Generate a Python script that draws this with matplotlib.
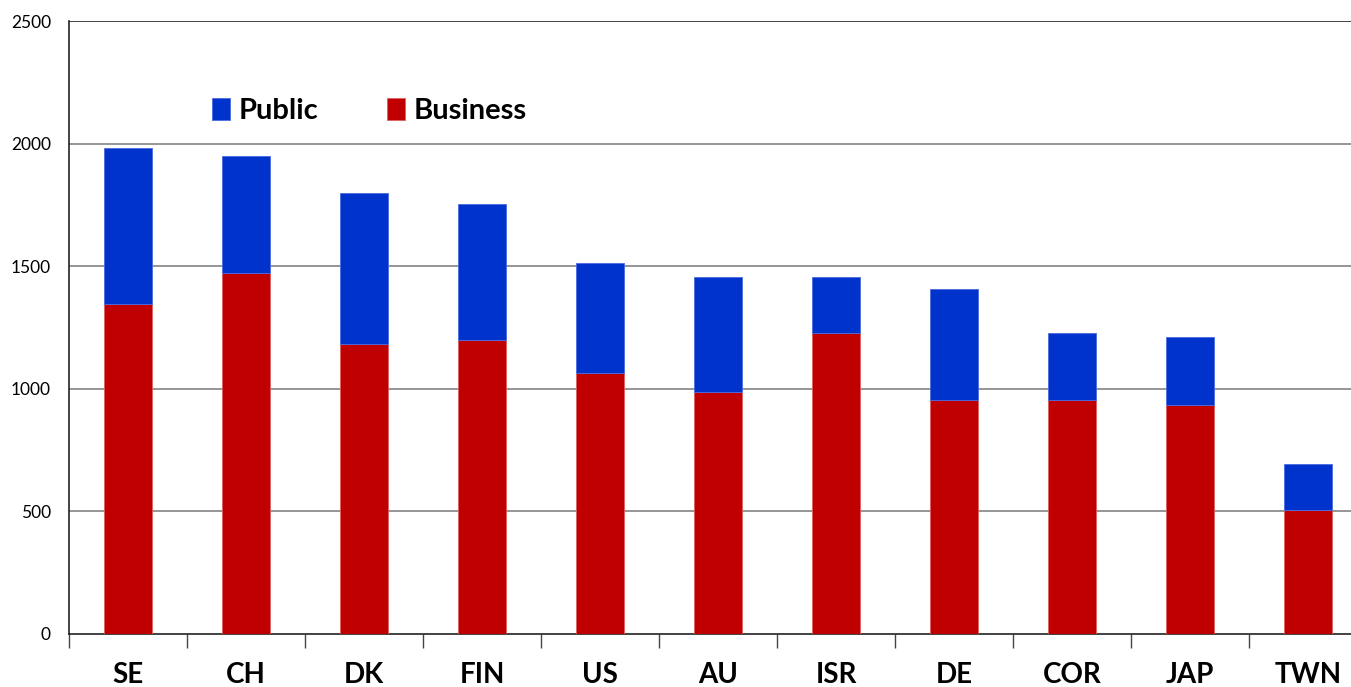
import matplotlib
matplotlib.use("Agg")
import matplotlib.pyplot as plt
import numpy as np

# Dépenses de R&D par habitant, ventilées public / entreprises
countries = ["SE", "CH", "DK", "FIN", "US", "AU", "ISR", "DE", "COR", "JAP", "TWN"]
business = [1344, 1474, 1181, 1201, 1063, 985, 1226, 953, 953, 932, 505]
total = [1983, 1950, 1800, 1755, 1515, 1454, 1454, 1409, 1226, 1213, 692]
public = [t - b for t, b in zip(total, business)]

blue = "#0033cc"
red = "#c00000"

plt.rcParams["font.family"] = ["Lato", "DejaVu Sans"]

W, H = 1351, 687
fig = plt.figure(figsize=(W / 100, H / 100), dpi=100)
# l'axe dépasse un peu à droite, comme dans le graphique d'origine
ax = fig.add_axes([69 / W, (H - 634) / H, 11 * 118 / W, (634 - 21) / H])

x = np.arange(len(countries))
ax.bar(x, business, width=0.4, color=red, edgecolor="#e06060", linewidth=0.6,
       label="Business", zorder=3)
ax.bar(x, public, bottom=business, width=0.4, color=blue, edgecolor="#4a6be0",
       linewidth=0.6, label="Public", zorder=3)

ax.set_xlim(-0.5, len(countries) - 0.5)
ax.set_ylim(0, 2500)
ax.set_yticks([0, 500, 1000, 1500, 2000, 2500])
ax.tick_params(axis="y", length=0, labelsize=12.5, pad=13)

# graduations de l'axe x entre les catégories, noms centrés sans tiret
ax.set_xticks(np.arange(len(countries) + 1) - 0.5)
ax.set_xticklabels([])
ax.set_xticks(x, minor=True)
ax.set_xticklabels(countries, minor=True, fontsize=20, fontweight="bold")
ax.tick_params(axis="x", which="major", direction="out", length=10, width=1,
               color="#444444")
ax.tick_params(axis="x", which="minor", length=0, pad=20)

for v in [500, 1000, 1500, 2000]:
    ax.axhline(v, color="#8c8c8c", linewidth=1.3, zorder=1)
ax.axhline(2500, color="#222222", linewidth=1.2, zorder=1)

for s in ["top", "right"]:
    ax.spines[s].set_visible(False)
ax.spines["left"].set_color("#222222")
ax.spines["bottom"].set_color("#222222")
ax.spines["left"].set_linewidth(1.2)
ax.spines["bottom"].set_linewidth(1.2)

handles, labels = ax.get_legend_handles_labels()
leg = ax.legend(handles[::-1], labels[::-1], loc="upper left",
                bbox_to_anchor=(0.09, 0.917), ncol=2, frameon=False,
                prop={"size": 21, "weight": "bold"}, handlelength=0.62,
                handleheight=0.8, handletextpad=0.3, columnspacing=2.35)

fig.savefig("out.png", dpi=100)
